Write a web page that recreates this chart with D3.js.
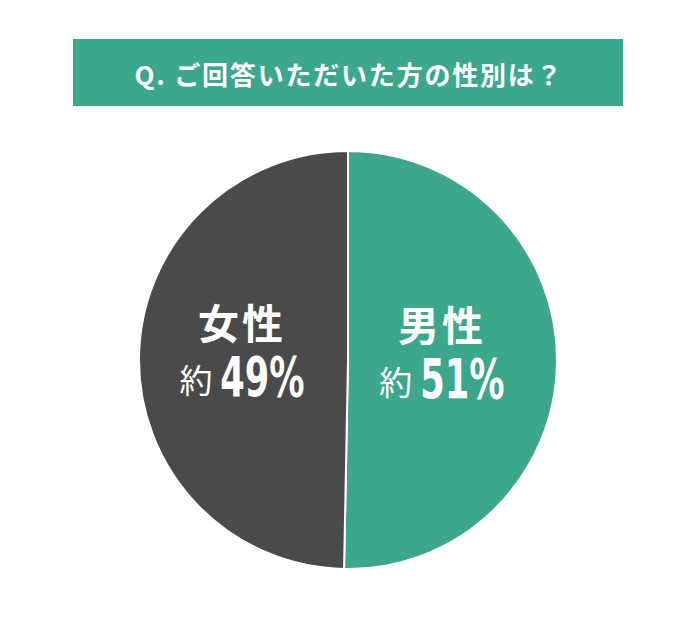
<!DOCTYPE html>
<html lang="ja">
<head>
    <meta charset="UTF-8">
    <title>ご回答いただいた方の性別</title>
    <script src="https://d3js.org/d3.v7.min.js"></script>
    <style>
        body {
            margin: 0;
            background: #fff;
            font-family: "Noto Sans CJK JP", "Noto Sans", sans-serif;
        }
        svg { display: block; }
    </style>
</head>
<body>
<svg></svg>
<script>
    // データ
    const titleText = "Q. ご回答いただいた方の性別は？";
    const categories = ["男性", "女性"];
    const shares = [50.3, 49.7];        // 円グラフ上の角度から読み取った値
    const shareLabels = ["51%", "49%"]; // 表示ラベル（約〇%）
    const colors = ["#3ca78d", "#4a4a4a"];

    const width = 696, height = 626;
    const cx = 348, cy = 360, radius = 209;

    const svg = d3.select("svg")
        .attr("width", width)
        .attr("height", height);

    // タイトル帯
    svg.append("rect")
        .attr("x", 73).attr("y", 39)
        .attr("width", 550).attr("height", 67)
        .attr("fill", "#3ca78d");

    svg.append("text")
        .attr("x", 349).attr("y", 73)
        .attr("text-anchor", "middle")
        .attr("dominant-baseline", "central")
        .attr("fill", "#fff")
        .attr("font-size", 26)
        .attr("font-weight", 700)
        .attr("letter-spacing", "1.8px")
        .text(titleText);

    // 円グラフ
    const data = categories.map((c, i) => ({ name: c, value: shares[i], label: shareLabels[i], color: colors[i] }));

    const pie = d3.pie().sort(null).value(d => d.value);
    const arc = d3.arc().innerRadius(0).outerRadius(radius);
    const labelArc = d3.arc().innerRadius(0).outerRadius(200);

    const g = svg.append("g").attr("transform", `translate(${cx},${cy})`);

    const slices = g.selectAll("g.slice")
        .data(pie(data))
        .join("g")
        .attr("class", "slice");

    slices.append("path")
        .attr("d", arc)
        .attr("fill", d => d.data.color)
        .attr("stroke", "#fff")
        .attr("stroke-width", 2)
        .attr("stroke-linejoin", "round");

    // ラベル
    const labels = slices.append("g")
        .attr("transform", d => {
            const [x, y] = labelArc.centroid(d);
            return `translate(${x - 6},${y})`;
        })
        .attr("fill", "#fff");

    labels.append("text")
        .attr("y", -38)
        .attr("text-anchor", "middle")
        .attr("dominant-baseline", "central")
        .attr("font-size", 41)
        .attr("font-weight", 700)
        .attr("letter-spacing", "3px")
        .text(d => d.data.name);

    // 「約」＋ 細長い数字
    const numScale = 0.64, gap = 8;
    labels.each(function (d) {
        const lg = d3.select(this);
        const yaku = lg.append("text")
            .attr("y", 20)
            .attr("dominant-baseline", "central")
            .attr("font-size", 33)
            .attr("font-weight", 400)
            .text("約");
        const num = lg.append("text")
            .attr("dominant-baseline", "central")
            .attr("font-family", "'DejaVu Sans', sans-serif")
            .attr("font-size", 55)
            .attr("font-weight", 700)
            .text(d.data.label);
        const wy = yaku.node().getComputedTextLength();
        const wn = num.node().getComputedTextLength() * numScale;
        const x0 = -(wy + gap + wn) / 2;
        yaku.attr("x", x0);
        num.attr("transform", `translate(${x0 + wy + gap},18) scale(${numScale},1)`);
    });
</script>
</body>
</html>
